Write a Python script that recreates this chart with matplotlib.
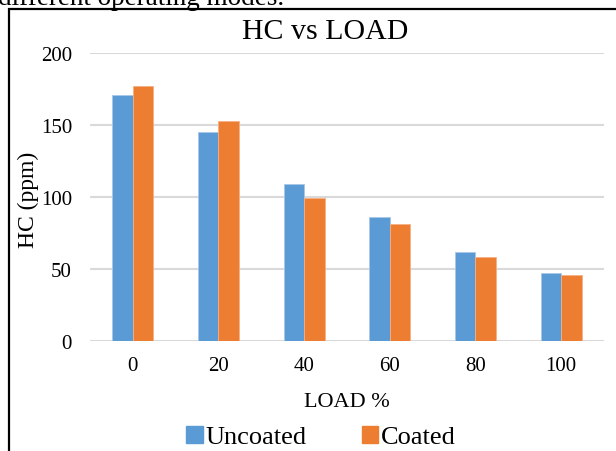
import numpy as np
import matplotlib
matplotlib.use('Agg')
import matplotlib.pyplot as plt
from matplotlib.patches import Rectangle, Patch

plt.rcParams['font.family'] = ['Liberation Serif', 'DejaVu Serif']

# HC emission against engine load
loads = ['0', '20', '40', '60', '80', '100']
uncoated = [171, 145, 109, 86, 62, 47]
coated = [177, 153, 99, 81, 58, 46]
yticks = [0, 50, 100, 150, 200]

blue = '#5B9BD5'
orange = '#ED7D31'
grid_c = '#D9D9D9'

fig = plt.figure(figsize=(6.16, 4.52), dpi=100)

# chart frame (runs off the right and bottom of the crop)
fig.patches.append(Rectangle((9/616, -0.1), 1.2, 1 - 10/452 + 0.1,
                             transform=fig.transFigure, fill=False,
                             edgecolor='black', linewidth=1.6))
# caption text cut off by the crop
fig.text(-2/616, 1 - 5/452, 'different operating modes.', fontsize=19.5,
         ha='left', va='baseline')

ax = fig.add_axes([90/616, 1 - 342/452, 514/616, 288/452])
x = np.arange(len(loads))
w = 0.24
ax.bar(x - w/2, uncoated, w, color=blue, edgecolor='#A9C8E8', linewidth=0.6,
       label='Uncoated', zorder=3)
ax.bar(x + w/2, coated, w, color=orange, edgecolor='#F4B083', linewidth=0.6,
       label='Coated', zorder=3)

ax.set_xlim(-0.5, len(loads) - 0.5)
ax.set_ylim(0, 200)
ax.set_yticks(yticks)
ax.set_xticks(x)
ax.set_xticklabels(loads)
for s in ax.spines.values():
    s.set_visible(False)
ax.yaxis.grid(True, color=grid_c, linewidth=1.5, zorder=0)
ax.set_axisbelow(True)
ax.tick_params(axis='both', length=0, labelsize=15)
ax.tick_params(axis='x', pad=11)
ax.tick_params(axis='y', pad=13)
ax.patch.set_alpha(0)

ax.set_xlabel('LOAD %', fontsize=16, labelpad=12)
fig.text(28/616, 1 - 200/452, 'HC (ppm)', fontsize=17, rotation=90,
         ha='center', va='center')
fig.text(325/616, 1 - 32/452, 'HC vs LOAD', fontsize=21.5,
         ha='center', va='center')

handles = [Patch(color=blue, label='Uncoated'), Patch(color=orange, label='Coated')]
fig.legend(handles=handles, loc='center', bbox_to_anchor=(321/616, 1 - 438/452),
           ncol=2, frameon=False, fontsize=19, handlelength=0.62,
           handleheight=0.62, handletextpad=0.1, columnspacing=2.1,
           borderpad=0, borderaxespad=0)

fig.savefig('out.png', dpi=100)
